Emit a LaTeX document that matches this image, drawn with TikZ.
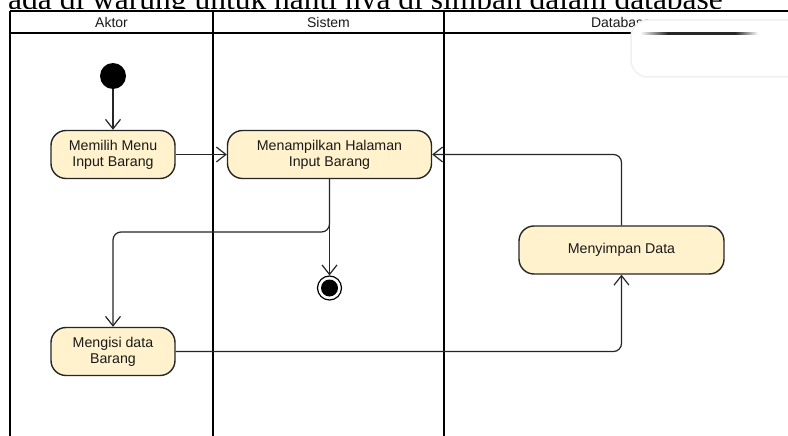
\documentclass[tikz,border=0pt]{standalone}
\usepackage{fontspec}
\setmainfont{Liberation Sans}
\newfontfamily\bodyserif{Liberation Serif}
\usetikzlibrary{arrows.meta}
\definecolor{actfill}{HTML}{FFF2CC}
\definecolor{actline}{HTML}{262626}
\definecolor{inktext}{HTML}{1A1A1A}

\begin{document}
\begin{tikzpicture}[x=1pt,y=-1pt,
  lane/.style={line width=2.4pt, draw=black},
  activity/.style={draw=actline, fill=actfill, line width=1.4pt, rounded corners=15pt,
    minimum height=48pt, align=center, font=\fontsize{14.2}{16}\selectfont,
    text=inktext, inner sep=0pt},
  flow/.style={line width=1.2pt, draw=black!85, rounded corners=8pt,
    -{Straight Barb[length=9.5pt,width=15pt,line width=1.2pt]}},
  lanetitle/.style={font=\fontsize{14}{16}\selectfont, text=inktext, inner sep=0pt},
  startdot/.style={circle, fill=black, minimum size=26pt, inner sep=0pt},
  enddot/.style={circle, draw=black, line width=1.2pt, minimum size=24pt, inner sep=0pt,
    path picture={\fill[black] (path picture bounding box.center) circle (8.5pt);}}
]
\useasboundingbox (0,0) rectangle (788,436);
\fill[white] (0,0) rectangle (788,436);

% line of running text, partly hidden behind the figure
\begin{scope}
  \clip (0,0) rectangle (788,9);
  \node[anchor=base west, inner sep=0pt, font=\bodyserif\fontsize{31.5}{36}\selectfont]
    (bodyline) at (8,10) {ada di warung untuk nanti nya di simpan dalam database};
\end{scope}

% swimlane frame
\draw[lane] (10,11) -- (800,11);
\draw[lane] (10,33) -- (800,33);
\draw[lane] (10,11) -- (10,437);
\draw[lane] (213,11) -- (213,437);
\draw[lane] (444,11) -- (444,437);

\node[lanetitle] (hAktor)  at (111.5,22) {Aktor};
\node[lanetitle] (hSistem) at (328.5,22) {Sistem};
\node[lanetitle] (hDb)     at (621,22)   {Database};

% activities
\node[startdot] (start) at (113,76) {};
\node[activity, minimum width=124pt] (pilih)  at (113,154.5)   {Memilih Menu\\Input Barang};
\node[activity, minimum width=204pt] (tampil) at (329.5,154.5) {Menampilkan Halaman\\Input Barang};
\node[activity, minimum width=205pt] (simpan) at (621.5,250)   {Menyimpan Data};
\node[activity, minimum width=124pt] (isi)    at (113,351.5)   {Mengisi data\\Barang};
\node[enddot] (end) at (329.5,288) {};
\coordinate (fork) at (329.5,232);

% control flow
\draw[flow] (start) -- (pilih);
\draw[flow] (pilih) -- (tampil);
\draw[flow] (tampil.south) -- (end);
\draw[flow] (tampil.south) -- (fork) -| (isi.north);
\draw[flow] (isi.east) -| (simpan.south);
\draw[flow] (simpan.north) |- (tampil.east);

% floating white panel over the header corner
\fill[white, draw=black!6, line width=1.5pt, rounded corners=17pt] (631,20) rectangle (812,77);
\shade[left color=white, right color=black!85] (640,32.2) rectangle (668,35);
\fill[black!85] (668,32.2) rectangle (735,35);
\shade[left color=black!85, right color=white] (735,32.2) rectangle (758,35);
\end{tikzpicture}
\end{document}
